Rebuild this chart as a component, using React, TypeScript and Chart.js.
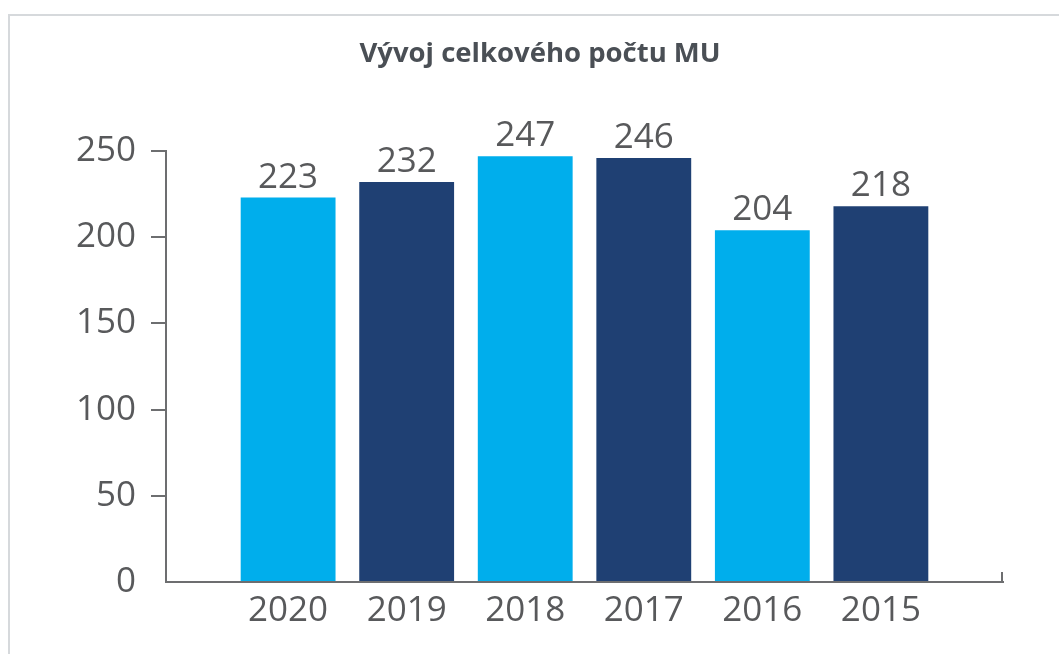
import React, { useEffect, useRef } from "react";
import { Chart, registerables } from "chart.js";

Chart.register(...registerables);

const years = ["2020", "2019", "2018", "2017", "2016", "2015"];
const counts = [223, 232, 247, 246, 204, 218];
const barColors = ["#00AEEC", "#1F4073", "#00AEEC", "#1F4073", "#00AEEC", "#1F4073"];
const yTicks = [0, 50, 100, 150, 200, 250];
const titleText = "Vývoj celkového počtu MU";

const TEXT = "#58595B";
const AXIS = "#6D6E70";
const FONT = "'Open Sans', 'DejaVu Sans', sans-serif";

const valueLabels = {
  id: "valueLabels",
  afterDatasetsDraw(chart: any) {
    const ctx = chart.ctx;
    const meta = chart.getDatasetMeta(0);
    ctx.save();
    ctx.fillStyle = TEXT;
    ctx.font = `35px ${FONT}`;
    ctx.textAlign = "center";
    ctx.textBaseline = "alphabetic";
    meta.data.forEach((el: any, i: number) => {
      ctx.fillText(String(counts[i]), el.x, el.y - 10);
    });
    ctx.restore();
  },
};

const axisEndTick = {
  id: "axisEndTick",
  afterDraw(chart: any) {
    const { ctx, chartArea } = chart;
    ctx.save();
    ctx.strokeStyle = AXIS;
    ctx.lineWidth = 2;
    ctx.beginPath();
    ctx.moveTo(chartArea.right - 1, chartArea.bottom);
    ctx.lineTo(chartArea.right - 1, chartArea.bottom - 10);
    ctx.stroke();
    ctx.restore();
  },
};

export default function App() {
  const ref = useRef<HTMLCanvasElement | null>(null);

  useEffect(() => {
    if (!ref.current) return;
    const chart = new Chart(ref.current, {
      type: "bar",
      data: {
        datasets: [
          {
            data: counts.map((v, i) => ({ x: i, y: v })),
            backgroundColor: barColors,
            borderWidth: 0,
            categoryPercentage: 1,
            barPercentage: 0.8,
          },
        ],
      },
      options: {
        responsive: false,
        animation: false,
        layout: { padding: { left: 77, right: 56, top: 0, bottom: 0 } },
        plugins: {
          legend: { display: false },
          tooltip: { enabled: false },
          title: {
            display: true,
            text: titleText,
            color: "#4A4F55",
            font: { family: FONT, size: 27.5, weight: "bold" },
            padding: { top: 38, bottom: 80 },
          },
        },
        scales: {
          x: {
            type: "linear",
            offset: false,
            min: -1.03,
            max: 6.03,
            afterBuildTicks(scale: any) {
              scale.ticks = years.map((_, i) => ({ value: i }));
            },
            afterFit(scale: any) {
              scale.height = 72;
            },
            grid: { display: false, drawTicks: false },
            border: { display: true, color: AXIS, width: 2 },
            ticks: {
              color: TEXT,
              font: { family: FONT, size: 35 },
              padding: 8,
              autoSkip: false,
              maxRotation: 0,
              callback: (v: any) => years[v as number] ?? "",
            },
          },
          y: {
            min: 0,
            max: 250,
            afterBuildTicks(scale: any) {
              scale.ticks = yTicks.map((v) => ({ value: v }));
            },
            afterFit(scale: any) {
              scale.width = 89;
            },
            grid: {
              drawOnChartArea: false,
              drawTicks: true,
              tickLength: 15,
              lineWidth: 2,
              color: (c: any) => (c.tick && c.tick.value === 0 ? "rgba(0,0,0,0)" : AXIS),
              tickColor: (c: any) => (c.tick && c.tick.value === 0 ? "rgba(0,0,0,0)" : AXIS),
            },
            border: { display: true, color: AXIS, width: 2 },
            ticks: {
              color: TEXT,
              font: { family: FONT, size: 35 },
              padding: 15,
            },
          },
        },
      },
      plugins: [valueLabels, axisEndTick],
    });
    return () => chart.destroy();
  }, []);

  return (
    <>
      <div
        style={{
          position: "fixed",
          left: 8,
          top: 14,
          right: -20,
          bottom: -20,
          border: "2px solid #D6D9DC",
        }}
      />
      <canvas
        ref={ref}
        width={1059}
        height={654}
        style={{ position: "fixed", left: 0, top: 0, width: 1059, height: 654 }}
      />
    </>
  );
}
